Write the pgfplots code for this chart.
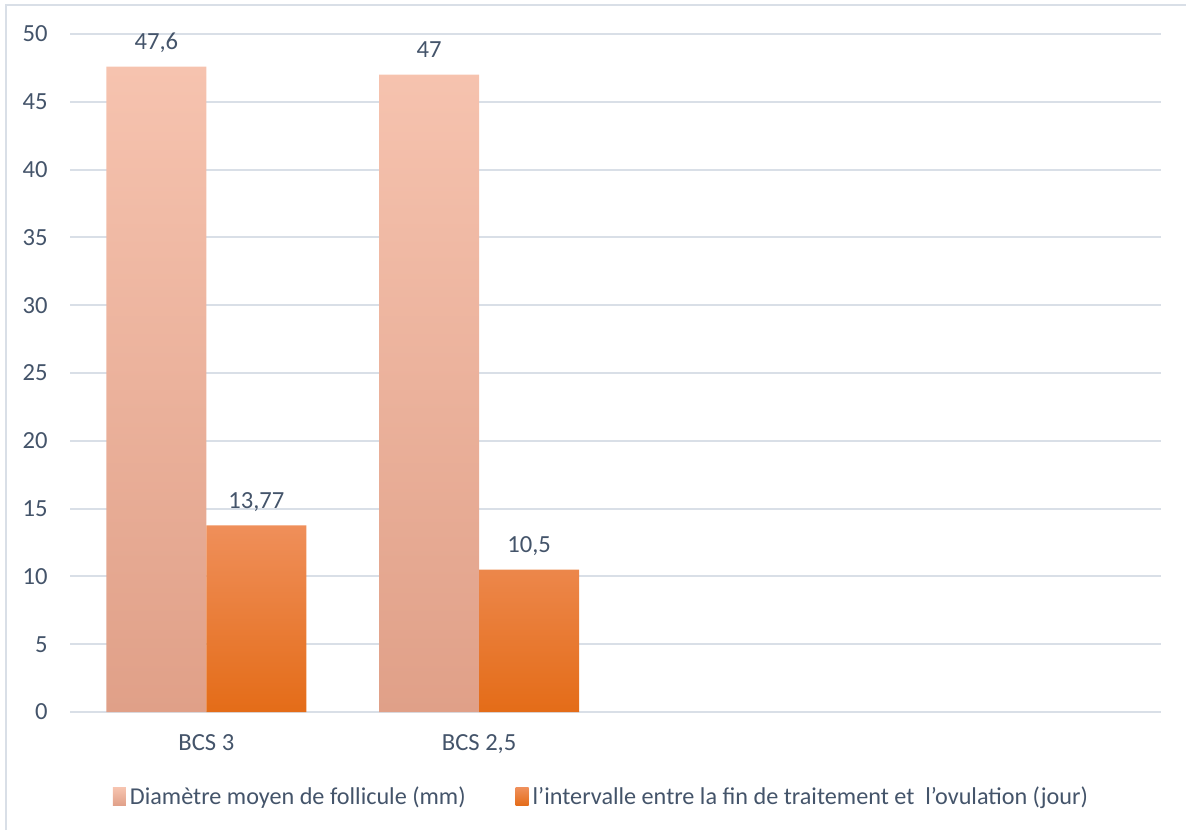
\documentclass[border=0pt]{standalone}
\usepackage{pgfplots}
\pgfplotsset{compat=1.18}
\usepackage{fontspec}
\setmainfont{Carlito}
\definecolor{gridc}{HTML}{D9DFE7}
\definecolor{txt}{HTML}{44546A}
\definecolor{pinkT}{HTML}{F6C3AF}
\definecolor{pinkB}{HTML}{E0A088}
\definecolor{orT}{HTML}{EF8F5A}
\definecolor{orM}{HTML}{F58230}
\definecolor{orB}{HTML}{E46C18}
\begin{document}
\begin{tikzpicture}
\useasboundingbox (0,0) rectangle (593pt,415pt);
\draw[color=gridc, line width=1pt] (3pt,0pt) -- (3pt,412.5pt) -- (593pt,412.5pt);
\begin{axis}[
  at={(35pt,59pt)}, anchor=south west,
  scale only axis, width=545.5pt, height=339pt,
  xmin=-0.5, xmax=3.5, ymin=0, ymax=50,
  xtick={0,1}, xticklabels={BCS 3,{BCS 2,5}},
  ytick={0,5,...,50},
  ymajorgrids, grid style={color=gridc, line width=1pt},
  axis line style={draw=none}, major tick length=0pt,
  tick label style={font=\fontsize{12.3}{14}\selectfont, text=txt},
  /pgf/number format/assume math mode=true,
  /pgf/number format/use comma,
  yticklabel style={anchor=east, inner sep=0pt, xshift=-11pt},
  xticklabel style={anchor=base, inner sep=0pt, yshift=-19.25pt},
  ybar=0pt, bar width=50pt,
  nodes near coords,
  nodes near coords style={font=\fontsize{12.3}{14}\selectfont, text=txt, anchor=base, inner sep=0pt, yshift=8.5pt},
  legend columns=2,
  legend style={at={(0.488,-0.125)}, anchor=center, draw=none, fill=none,
    font=\fontsize{12.1}{14}\selectfont, text=txt,
    /tikz/every even column/.append style={column sep=23pt}},
  legend image code/.code={\path[#1] (0pt,-4.5pt) rectangle (6.5pt,4.5pt);},
]
\addplot[draw=none, top color=pinkT, bottom color=pinkB] coordinates {(0,47.6) (1,47)};
\addplot[draw=none, top color=orT, middle color=orM, bottom color=orB] coordinates {(0,13.77) (1,10.5)};
\legend{Diamètre moyen de follicule (mm), l’intervalle entre la fin de traitement et\ \ l’ovulation (jour)}
\end{axis}
\end{tikzpicture}
\end{document}
